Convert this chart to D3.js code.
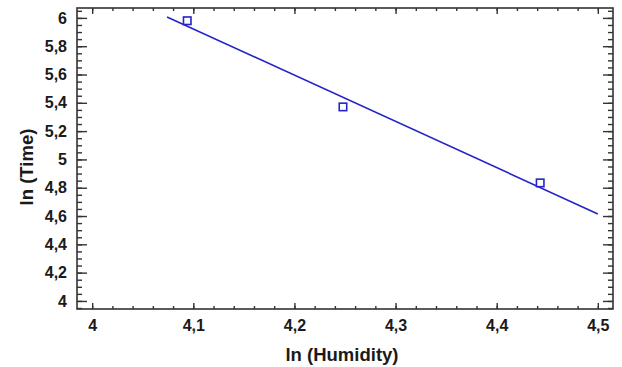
<!DOCTYPE html>
<html><head><meta charset="utf-8">
<script src="https://cdn.jsdelivr.net/npm/d3@7"></script>
<style>
body{margin:0;background:#fff;}
text{font-family:"Liberation Sans",Arial,sans-serif;font-weight:bold;fill:#1a1a1a;}
</style></head><body>
<svg id="c" width="622" height="367"></svg>
<script>
// data
const lnHumidity = [4.094, 4.248, 4.443];
const lnTime = [5.98, 5.371, 4.834];
const fitX = [4.074, 4.5];
const fitY = [6.007, 4.615];
const xTickValues = [4.0, 4.1, 4.2, 4.3, 4.4, 4.5];
const xTickLabels = ["4", "4,1", "4,2", "4,3", "4,4", "4,5"];
const yTickValues = [4.0, 4.2, 4.4, 4.6, 4.8, 5.0, 5.2, 5.4, 5.6, 5.8, 6.0];
const yTickLabels = ["4", "4,2", "4,4", "4,6", "4,8", "5", "5,2", "5,4", "5,6", "5,8", "6"];
const xTitle = "ln (Humidity)";
const yTitle = "ln (Time)";

const svg = d3.select("#c");
const L = 77, R = 613, T = 8, B = 309;
const x = d3.scaleLinear().domain([3.985, 4.515]).range([L, R]);
const y = d3.scaleLinear().domain([3.943, 6.070]).range([B, T]);

const xMinor = d3.range(3.98, 4.53, 0.02).map(v => +v.toFixed(2)).filter(v => v >= 3.985 && v <= 4.515);
const yMinor = d3.range(3.95, 6.08, 0.05).map(v => +v.toFixed(2)).filter(v => v >= 3.943 && v <= 6.07);
const frameColor = "#333";

function styleAxis(g){ g.select(".domain").remove(); g.selectAll("line").attr("stroke", frameColor).attr("stroke-width", 1.4); }

// minor ticks
svg.append("g").attr("transform", `translate(0,${B})`).call(d3.axisBottom(x).tickValues(xMinor).tickSize(-3).tickFormat("")).call(styleAxis);
svg.append("g").attr("transform", `translate(0,${T})`).call(d3.axisTop(x).tickValues(xMinor).tickSize(-3).tickFormat("")).call(styleAxis);
svg.append("g").attr("transform", `translate(${L},0)`).call(d3.axisLeft(y).tickValues(yMinor).tickSize(-5).tickFormat("")).call(styleAxis);
svg.append("g").attr("transform", `translate(${R},0)`).call(d3.axisRight(y).tickValues(yMinor).tickSize(-5).tickFormat("")).call(styleAxis);

// major ticks
const xb = svg.append("g").attr("transform", `translate(0,${B})`)
  .call(d3.axisBottom(x).tickValues(xTickValues).tickSize(-6).tickPadding(11).tickFormat((d,i) => xTickLabels[i])).call(styleAxis);
xb.selectAll("text").attr("font-size", 16).attr("fill", "#1a1a1a");
svg.append("g").attr("transform", `translate(0,${T})`).call(d3.axisTop(x).tickValues(xTickValues).tickSize(-6).tickFormat("")).call(styleAxis);
const yl = svg.append("g").attr("transform", `translate(${L},0)`)
  .call(d3.axisLeft(y).tickValues(yTickValues).tickSize(-10).tickPadding(10).tickFormat((d,i) => yTickLabels[i])).call(styleAxis);
yl.selectAll("text").attr("font-size", 16).attr("fill", "#1a1a1a");
svg.append("g").attr("transform", `translate(${R},0)`).call(d3.axisRight(y).tickValues(yTickValues).tickSize(-10).tickFormat("")).call(styleAxis);

// frame
svg.append("rect").attr("x", L).attr("y", T).attr("width", R - L).attr("height", B - T)
  .attr("fill", "none").attr("stroke", frameColor).attr("stroke-width", 1.6);

// fit line
const blue = "#2424c8";
svg.append("path").datum(fitX.map((v,i) => [v, fitY[i]]))
  .attr("d", d3.line().x(d => x(d[0])).y(d => y(d[1])))
  .attr("fill", "none").attr("stroke", blue).attr("stroke-width", 1.6);

// markers
const s = 7.5;
svg.selectAll("rect.pt").data(lnHumidity.map((v,i) => [v, lnTime[i]])).enter().append("rect")
  .attr("class", "pt").attr("x", d => x(d[0]) - s/2).attr("y", d => y(d[1]) - s/2)
  .attr("width", s).attr("height", s).attr("fill", "#fff").attr("stroke", blue).attr("stroke-width", 1.6);

// titles
svg.append("text").attr("x", 342).attr("y", 361).attr("text-anchor", "middle")
  .attr("font-size", 18.5).text(xTitle);
svg.append("text").attr("transform", `translate(33,167) rotate(-90)`).attr("text-anchor", "middle")
  .attr("font-size", 18.5).text(yTitle);
</script></body></html>
